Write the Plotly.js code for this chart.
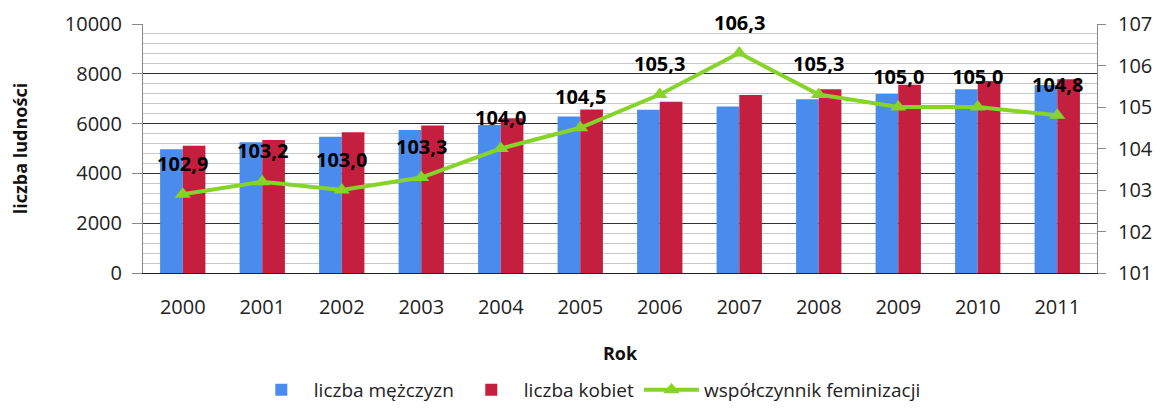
<!DOCTYPE html>
<html>
<head>
<meta charset="utf-8">
<script src="https://cdn.plot.ly/plotly-3.0.1.min.js"></script>
<style>html,body{margin:0;padding:0;background:#fff;}#chart{width:1163px;height:409px;}</style>
</head>
<body>
<div id="chart"></div>
<script>
var years = ['2000','2001','2002','2003','2004','2005','2006','2007','2008','2009','2010','2011'];
var men = [4970, 5250, 5470, 5740, 5940, 6290, 6560, 6690, 6980, 7190, 7380, 7550];
var women = [5110, 5340, 5650, 5920, 6210, 6570, 6880, 7150, 7380, 7560, 7710, 7780];
var femRatio = [102.9, 103.2, 103.0, 103.3, 104.0, 104.5, 105.3, 106.3, 105.3, 105.0, 105.0, 104.8];
var seriesNames = ['liczba mężczyzn', 'liczba kobiet', 'współczynnik feminizacji'];

var fmt = function(v){ return v.toFixed(1).replace('.', ','); };

var traces = [
  {type:'bar', x:years, y:men, name:seriesNames[0], marker:{color:'#4a8cee'}},
  {type:'bar', x:years, y:women, name:seriesNames[1], marker:{color:'#c41f3e'}},
  {type:'scatter', mode:'lines+markers', x:years, y:femRatio, yaxis:'y2', name:seriesNames[2],
   line:{color:'#86d42a', width:4}, marker:{symbol:'triangle-up', size:14, color:'#86d42a'}}
];

// category index positions on the category axis
var annotations = years.map(function(yr, i){
  return {x:i, y:femRatio[i], xref:'x', yref:'y2', text:fmt(femRatio[i]), showarrow:false,
          yshift:31, font:{family:'Open Sans, sans-serif', size:20, color:'#000', weight:'bold'}};
});

var layout = {
  width:1163, height:409,
  margin:{l:143, r:66, t:24, b:136},
  paper_bgcolor:'#fff', plot_bgcolor:'#fff',
  barmode:'group', bargap:0.43, bargroupgap:0,
  showlegend:true,
  legend:{orientation:'h', xref:'container', yref:'container', x:0.505, y:0, xanchor:'center', yanchor:'bottom',
          font:{family:'Open Sans, sans-serif', size:19, color:'#222'}, itemwidth:55, traceorder:'normal'},
  xaxis:{type:'category', range:[-0.5, 11.5], autorange:false, showline:true, linecolor:'#222', linewidth:1, ticks:'', showgrid:false,
         ticklabelstandoff:16,
         tickfont:{family:'Open Sans, sans-serif', size:20, color:'#222'},
         title:{text:'Rok', font:{family:'Open Sans, sans-serif', size:18, color:'#111', weight:'bold'}, standoff:28}},
  yaxis:{range:[0,10000], dtick:2000, tickformat:'d', showline:true, linecolor:'#888', linewidth:1,
         ticks:'outside', ticklen:10, tickcolor:'#888', ticklabelstandoff:6,
         showgrid:true, gridcolor:'#333', gridwidth:1, zeroline:false,
         minor:{dtick:400, showgrid:true, gridcolor:'#c8c8c8', gridwidth:1, ticks:''},
         tickfont:{family:'Open Sans, sans-serif', size:20, color:'#222'},
         title:{text:'liczba ludności', font:{family:'Open Sans, sans-serif', size:18, color:'#111', weight:'bold'}, standoff:32}},
  yaxis2:{overlaying:'y', side:'right', range:[101,107], dtick:1, showline:true, linecolor:'#888', linewidth:1,
          ticks:'outside', ticklen:8, tickcolor:'#888', showgrid:false, zeroline:false, ticklabelstandoff:8,
          tickfont:{family:'Open Sans, sans-serif', size:20, color:'#222'}},
  annotations:annotations
};

Plotly.newPlot('chart', traces, layout, {displayModeBar:false, staticPlot:true});
</script>
</body>
</html>
